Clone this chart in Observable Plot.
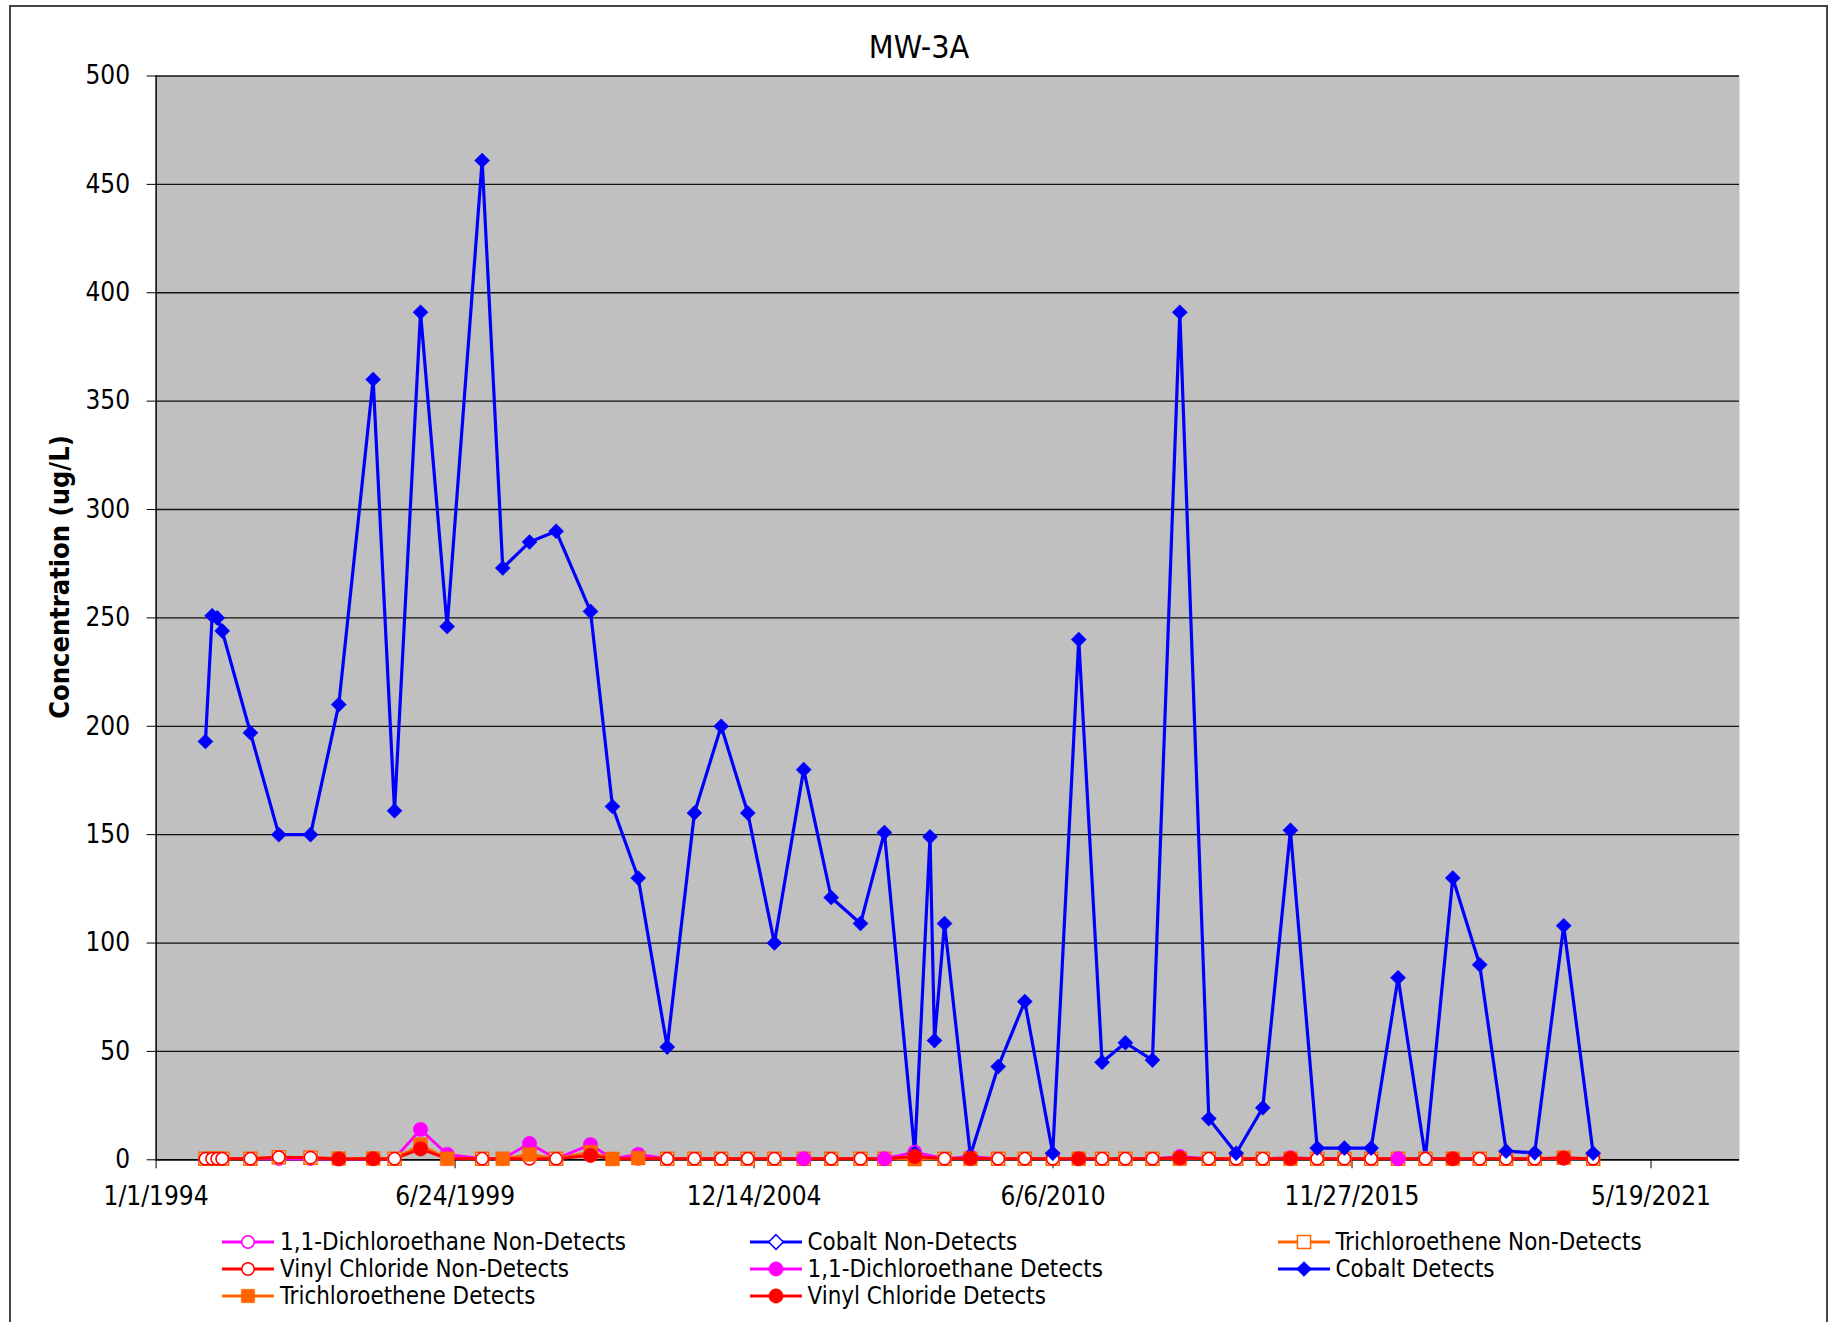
<!DOCTYPE html>
<html>
<head>
<meta charset="utf-8">
<script src="https://cdn.jsdelivr.net/npm/d3@7"></script>
<script src="https://cdn.jsdelivr.net/npm/@observablehq/plot@0.6"></script>
<style>
  html, body { margin: 0; padding: 0; background: #fff; }
  body { width: 1835px; height: 1322px; overflow: hidden; position: relative;
         font-family: "DejaVu Sans Condensed", "DejaVu Sans", sans-serif; color: #000; }
  #frame { position: absolute; left: 9px; top: 5px; width: 1819px; height: 1340px;
           border: 2px solid #444; box-sizing: border-box; }
  #title { position: absolute; left: 0; width: 1838px; top: 31px; text-align: center;
           font-size: 32px; line-height: 32px; }
  #chart { position: absolute; left: 0; top: 60px; }
  #ylabel { position: absolute; left: -140px; top: 562px; width: 400px; height: 30px;
            line-height: 30px; text-align: center; font-weight: bold; font-size: 27px;
            transform: rotate(-90deg); transform-origin: 50% 50%; white-space: nowrap; }
  .leg { position: absolute; height: 26px; display: flex; align-items: center; white-space: nowrap;
         font-size: 23.9px; line-height: 26px; }
  .leg svg { flex: none; margin-right: 6px; }
</style>
</head>
<body>
<div id="frame"></div>
<div id="title"></div>
<div id="ylabel"></div>
<div id="chart"></div>
<div id="legend"></div>
<script>
// ---------------- data ----------------
const chartTitle = "MW-3A";
const yLabel = "Concentration (ug/L)";

const yTicks = [0, 50, 100, 150, 200, 250, 300, 350, 400, 450, 500];
const xTickLabels = ["1/1/1994", "6/24/1999", "12/14/2004", "6/6/2010", "11/27/2015", "5/19/2021"];
const xDomainLabels = ["1/1/1994", "1/1/2023"];

// Cobalt sampling dates and values (ug/L)
const cobaltDates = ["1994-11-27","1995-01-11","1995-02-14","1995-03-19","1995-09-24","1996-04-01","1996-10-30",
  "1997-05-07","1997-12-23","1998-05-15","1998-11-05","1999-05-02","1999-12-22","2000-05-08","2000-11-03",
  "2001-04-30","2001-12-16","2002-05-12","2002-10-31","2003-05-13","2003-11-11","2004-05-08","2004-11-02",
  "2005-04-29","2005-11-11","2006-05-14","2006-11-26","2007-05-05","2007-11-24","2008-03-05","2008-04-04",
  "2008-06-10","2008-11-30","2009-06-04","2009-11-29","2010-06-04","2010-11-25","2011-04-30","2011-10-03",
  "2012-04-01","2012-10-01","2013-04-13","2013-10-13","2014-04-09","2014-10-11","2015-04-08","2015-10-07",
  "2016-04-03","2016-09-30","2017-04-01","2017-10-01","2018-03-30","2018-09-23","2019-04-02","2019-10-13",
  "2020-04-27"];
const cobaltValues = [193,251,250,244,197,150,150,210,360,161,391,246,461,273,285,290,253,163,130,52,
  160,200,160,100,180,121,109,151,3,149,55,109,2,43,73,3,240,45,54,46,391,19,3,24,152,5.4,5.4,5.4,84,1,
  130,90,4,3.2,108,3];
const cobaltFlags = ["D","D","D","D","D","D","D","D","D","D","D","D","D","D","D","D","D","D","D","D",
  "D","D","D","D","D","D","D","D","D","D","D","D","D","D","D","D","D","D","D","D","D","D","D","D","D",
  "D","D","D","D","U","D","D","D","D","D","D"];

// VOC sampling dates
const vocDates = ["1994-11-27","1995-01-11","1995-02-14","1995-03-19","1995-09-24","1996-04-01","1996-10-30",
  "1997-05-07","1997-12-23","1998-05-15","1998-11-05","1999-05-02","1999-12-22","2000-05-08","2000-11-03",
  "2001-04-30","2001-12-16","2002-05-12","2002-10-31","2003-05-13","2003-11-11","2004-05-08","2004-11-02",
  "2005-04-29","2005-11-11","2006-05-14","2006-11-26","2007-05-05","2007-11-24",
  "2008-06-10","2008-11-30","2009-06-04","2009-11-29","2010-06-04","2010-11-25","2011-04-30","2011-10-03",
  "2012-04-01","2012-10-01","2013-04-13","2013-10-13","2014-04-09","2014-10-11","2015-04-08","2015-10-07",
  "2016-04-03","2016-09-30","2017-04-01","2017-10-01","2018-03-30","2018-09-23","2019-04-02","2019-10-13",
  "2020-04-27"];

// 1,1-Dichloroethane
const dcaValues = [0.5,0.5,0.5,0.5,0.5,0.3,0.3,0.3,0.3,0.5, 14,2.5,0.5,0.5,7.5,0.5,7,0.5,2.5,0.5,
  0.5,0.5,0.5,0.5,0.5,0.5,0.5,0.5,3.5,0.5, 1.5,0.5,0.5,0.5,0.3,0.5,0.5,0.5,1.5,0.5,
  0.5,0.5,1,0.5,0.5,0.5,0.5,0.5,0.5,0.5, 0.5,0.5,0.5,0.5];
const dcaFlags = ["U","U","U","U","U","U","U","U","U","U", "D","D","U","U","D","U","D","U","D","U",
  "U","U","U","U","D","U","U","D","D","U", "D","U","U","U","U","U","U","U","D","U",
  "U","U","D","U","U","U","D","U","U","U", "U","U","U","U"];

// Trichloroethene
const tceValues = [0.5,0.5,0.5,0.5,0.5,1.2,1,0.6,0.6,0.5, 7,0.5,0.5,0.5,2.5,0.5,3.5,0.4,0.8,0.5,
  0.5,0.5,0.5,0.5,0.5,0.5,0.5,0.5,0.3,0.5, 0.5,0.5,0.5,0.5,0.5,0.5,0.5,0.5,0.5,0.5,
  0.5,0.5,0.5,0.5,0.5,0.5,0.5,0.5,0.5,0.5, 0.5,0.5,1,0.5];
const tceFlags = ["U","U","U","U","U","U","U","D","D","U", "D","D","U","D","D","U","D","D","D","U",
  "U","U","U","U","U","U","U","U","D","U", "D","U","U","U","D","U","U","U","D","U",
  "U","U","D","U","U","U","U","U","D","U", "U","U","D","U"];

// Vinyl Chloride
const vcValues = [0.5,0.5,0.5,0.5,0.5,1.2,1,0.4,0.5,0.5, 5,0.5,0.5,0.5,0.5,0.5,2,0.5,0.5,0.5,
  0.5,0.5,0.5,0.5,0.5,0.5,0.5,0.5,1.5,0.5, 0.6,0.5,0.5,0.5,0.5,0.5,0.5,0.5,0.8,0.5,
  0.5,0.5,0.6,0.5,0.5,0.5,0.5,0.5,0.5,0.5, 0.5,0.5,0.8,0.5];
const vcFlags = ["U","U","U","U","U","U","U","D","D","U", "D","U","U","U","U","U","D","U","U","U",
  "U","U","U","U","U","U","U","U","D","U", "D","U","U","U","D","U","U","U","D","U",
  "U","U","D","U","U","U","U","U","D","U", "U","U","D","U"];

const legendLabels = [
  "1,1-Dichloroethane Non-Detects", "Cobalt Non-Detects", "Trichloroethene Non-Detects",
  "Vinyl Chloride Non-Detects", "1,1-Dichloroethane Detects", "Cobalt Detects",
  "Trichloroethene Detects", "Vinyl Chloride Detects"
];

// ---------------- build ----------------
const COL = { dca: "#FF00FF", tce: "#FF6600", vc: "#FF0000", co: "#0000FF" };
const parseISO = d3.utcParse("%Y-%m-%d");
const parseUS = d3.utcParse("%m/%d/%Y");
const xTicks = xTickLabels.map(parseUS);
const xDomain = xDomainLabels.map(parseUS);

const cobalt = cobaltDates.map((d, i) => ({ date: parseISO(d), value: cobaltValues[i], flag: cobaltFlags[i] }));
const mk = (vals, flags) => vocDates.map((d, i) => ({ date: parseISO(d), value: vals[i], flag: flags[i] }));
const dca = mk(dcaValues, dcaFlags);
const tce = mk(tceValues, tceFlags);
const vc = mk(vcValues, vcFlags);
const ND = a => a.filter(d => d.flag === "U");
const DT = a => a.filter(d => d.flag === "D");

const pos = { x: "date", y: "value" };

const chart = Plot.plot({
  width: 1835,
  height: 1165,
  marginLeft: 155.6,
  marginRight: 96,
  marginTop: 15.5,
  marginBottom: 65.7,
  style: { background: "transparent", fontFamily: "'DejaVu Sans Condensed', 'DejaVu Sans', sans-serif",
           fontSize: "26px", color: "#000", overflow: "visible" },
  x: { type: "utc", domain: xDomain, ticks: xTicks, tickFormat: d3.utcFormat("%-m/%-d/%Y"),
       tickSize: 9, tickPadding: 18, label: null },
  y: { domain: [yTicks[0], yTicks[yTicks.length - 1]], ticks: yTicks, tickSize: 9, tickPadding: 17, label: null },
  marks: [
    Plot.frame({ fill: "#C0C0C0", stroke: "none" }),
    Plot.gridY(yTicks, { stroke: "#111", strokeOpacity: 1, strokeWidth: 1.3 }),
    Plot.ruleX(xDomain.slice(0, 1), { stroke: "#000", strokeWidth: 1.5 }),
    Plot.ruleY(yTicks.slice(0, 1), { stroke: "#000", strokeWidth: 1.5 }),
    // compound lines
    Plot.line(dca, { ...pos, stroke: COL.dca, strokeWidth: 2.8 }),
    Plot.line(tce, { ...pos, stroke: COL.tce, strokeWidth: 2.8 }),
    Plot.line(vc, { ...pos, stroke: COL.vc, strokeWidth: 3 }),
    Plot.line(cobalt, { ...pos, stroke: COL.co, strokeWidth: 3.2 }),
    // non-detect markers
    Plot.dot(ND(dca), { ...pos, symbol: "circle", r: 6, fill: "white", stroke: COL.dca, strokeWidth: 1.5 }),
    Plot.dot(ND(cobalt), { ...pos, symbol: "diamond2", r: 6.6, fill: "white", stroke: COL.co, strokeWidth: 1.5 }),
    Plot.dot(ND(tce), { ...pos, symbol: "square", r: 7.4, fill: "white", stroke: COL.tce, strokeWidth: 1.5 }),
    Plot.dot(ND(vc), { ...pos, symbol: "circle", r: 6.2, fill: "white", stroke: COL.vc, strokeWidth: 1.6 }),
    // detect markers
    Plot.dot(DT(dca), { ...pos, symbol: "circle", r: 7.2, fill: COL.dca, stroke: COL.dca, strokeWidth: 0.5 }),
    Plot.dot(DT(cobalt), { ...pos, symbol: "diamond2", r: 6.8, fill: COL.co, stroke: COL.co, strokeWidth: 0.5 }),
    Plot.dot(DT(tce), { ...pos, symbol: "square", r: 7.8, fill: COL.tce, stroke: COL.tce, strokeWidth: 0.5 }),
    Plot.dot(DT(vc), { ...pos, symbol: "circle", r: 7.2, fill: COL.vc, stroke: COL.vc, strokeWidth: 0.5 })
  ]
});
document.getElementById("chart").appendChild(chart);
document.getElementById("title").textContent = chartTitle;
document.getElementById("ylabel").textContent = yLabel;

// ---------------- legend ----------------
const legendStyle = [
  { color: COL.dca, sym: d3.symbolCircle, size: 6.2, open: true },
  { color: COL.co, sym: d3.symbolDiamond2, size: 6.6, open: true },
  { color: COL.tce, sym: d3.symbolSquare, size: 7.4, open: true },
  { color: COL.vc, sym: d3.symbolCircle, size: 6.2, open: true },
  { color: COL.dca, sym: d3.symbolCircle, size: 7.2, open: false },
  { color: COL.co, sym: d3.symbolDiamond2, size: 6.8, open: false },
  { color: COL.tce, sym: d3.symbolSquare, size: 7.6, open: false },
  { color: COL.vc, sym: d3.symbolCircle, size: 7.2, open: false }
];
const colX = [222, 749.5, 1277.5];
const rowY = [1241.7, 1269, 1296.3];
const legend = document.getElementById("legend");
legendLabels.forEach((label, i) => {
  const s = legendStyle[i];
  const item = document.createElement("div");
  item.className = "leg";
  item.style.left = colX[i % 3] + "px";
  item.style.top = (rowY[Math.floor(i / 3)] - 13) + "px";
  const path = d3.symbol(s.sym, Math.PI * s.size * s.size)();
  item.innerHTML =
    `<svg width="52" height="26" viewBox="0 0 52 26">
       <line x1="0" y1="13" x2="52" y2="13" stroke="${s.color}" stroke-width="3"/>
       <path d="${path}" transform="translate(26,13)" fill="${s.open ? "white" : s.color}"
             stroke="${s.color}" stroke-width="${s.open ? 1.5 : 0.5}"/>
     </svg><span>${label}</span>`;
  legend.appendChild(item);
});
</script>
</body>
</html>
